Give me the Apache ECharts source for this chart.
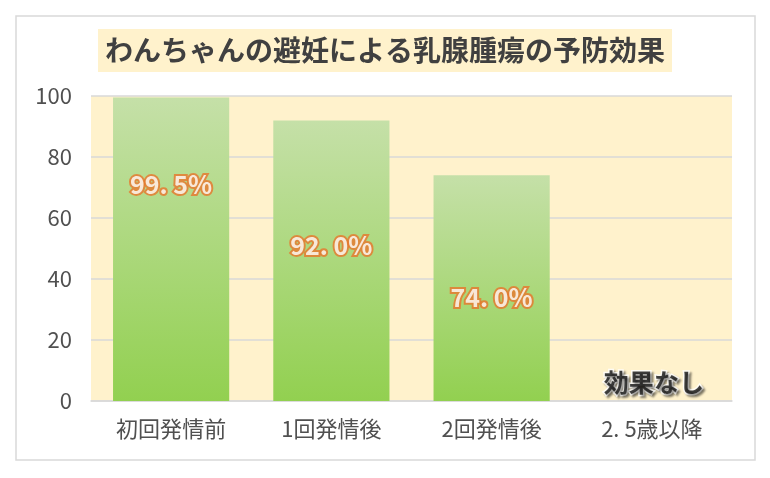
<!DOCTYPE html>
<html><head><meta charset="utf-8">
<script src="https://cdn.jsdelivr.net/npm/echarts@6/dist/echarts.min.js"></script>
<style>html,body{margin:0;padding:0;background:#fff}#c{width:770px;height:478px}</style>
</head><body><div id="c"></div>
<script>
const categories = ['初回発情前', '1回発情後', '2回発情後', '2. 5歳以降'];
const values = [99.5, 92.0, 74.0, null];
const valueLabels = ['99. 5%', '92. 0%', '74. 0%', '効果なし'];
const labelLevels = [71, 51, 34, 6];
const yTicks = [0, 20, 40, 60, 80, 100];

const chart = echarts.init(document.getElementById('c'));
const jp = '"Noto Sans CJK JP", sans-serif';
chart.setOption({
  animation: false,
  graphic: [{
    type: 'rect', shape: {x: 16, y: 16, width: 739, height: 444},
    style: {fill: '#fff', stroke: '#d9d9d9', lineWidth: 1.5}, z: -10
  }],
  title: {
    text: 'わんちゃんの避妊による乳腺腫瘍の予防効果',
    left: 'center', top: 29,
    backgroundColor: '#fff2cc',
    padding: [6, 7, 6, 7],
    textStyle: {fontFamily: jp, fontSize: 28, fontWeight: 'bold', color: '#404040', lineHeight: 31}
  },
  grid: {left: 91, right: 38, top: 96, bottom: 77, show: true, backgroundColor: '#fff2cc', borderWidth: 0},
  xAxis: {
    type: 'category', data: categories,
    axisLine: {show: true, lineStyle: {color: '#d9d9d9', width: 1.5}},
    axisTick: {show: false},
    axisLabel: {fontFamily: jp, fontSize: 22, color: '#505050', margin: 17}
  },
  yAxis: {
    type: 'value', min: yTicks[0], max: yTicks[yTicks.length - 1], interval: 20,
    axisLine: {show: false}, axisTick: {show: false},
    splitLine: {lineStyle: {color: '#d9d9d9', width: 1.5}},
    axisLabel: {fontFamily: jp, fontSize: 22, color: '#505050', margin: 19}
  },
  series: [{
    type: 'bar', data: values, barCategoryGap: '27.5%',
    itemStyle: {color: new echarts.graphic.LinearGradient(0, 0, 0, 1, [
      {offset: 0, color: '#c5e0a8'}, {offset: 1, color: '#92d050'}])}
  }, {
    type: 'scatter', symbolSize: 0, z: 5,
    data: labelLevels.map((v, i) => ({
      value: [i, v],
      label: i < 3 ? {} : {
        color: '#111', textBorderColor: '#fff', textBorderWidth: 3,
        textShadowColor: 'rgba(0,0,0,0.45)', textShadowBlur: 2, textShadowOffsetX: 2, textShadowOffsetY: 2,
        fontSize: 25, offset: [2, 0]
      }
    })),
    label: {
      show: true, position: 'inside',
      formatter: p => valueLabels[p.dataIndex],
      fontFamily: jp, fontSize: 25, fontWeight: 'bold', color: '#fff',
      textBorderColor: '#e8762c', textBorderWidth: 4
    }
  }]
});
</script></body></html>
